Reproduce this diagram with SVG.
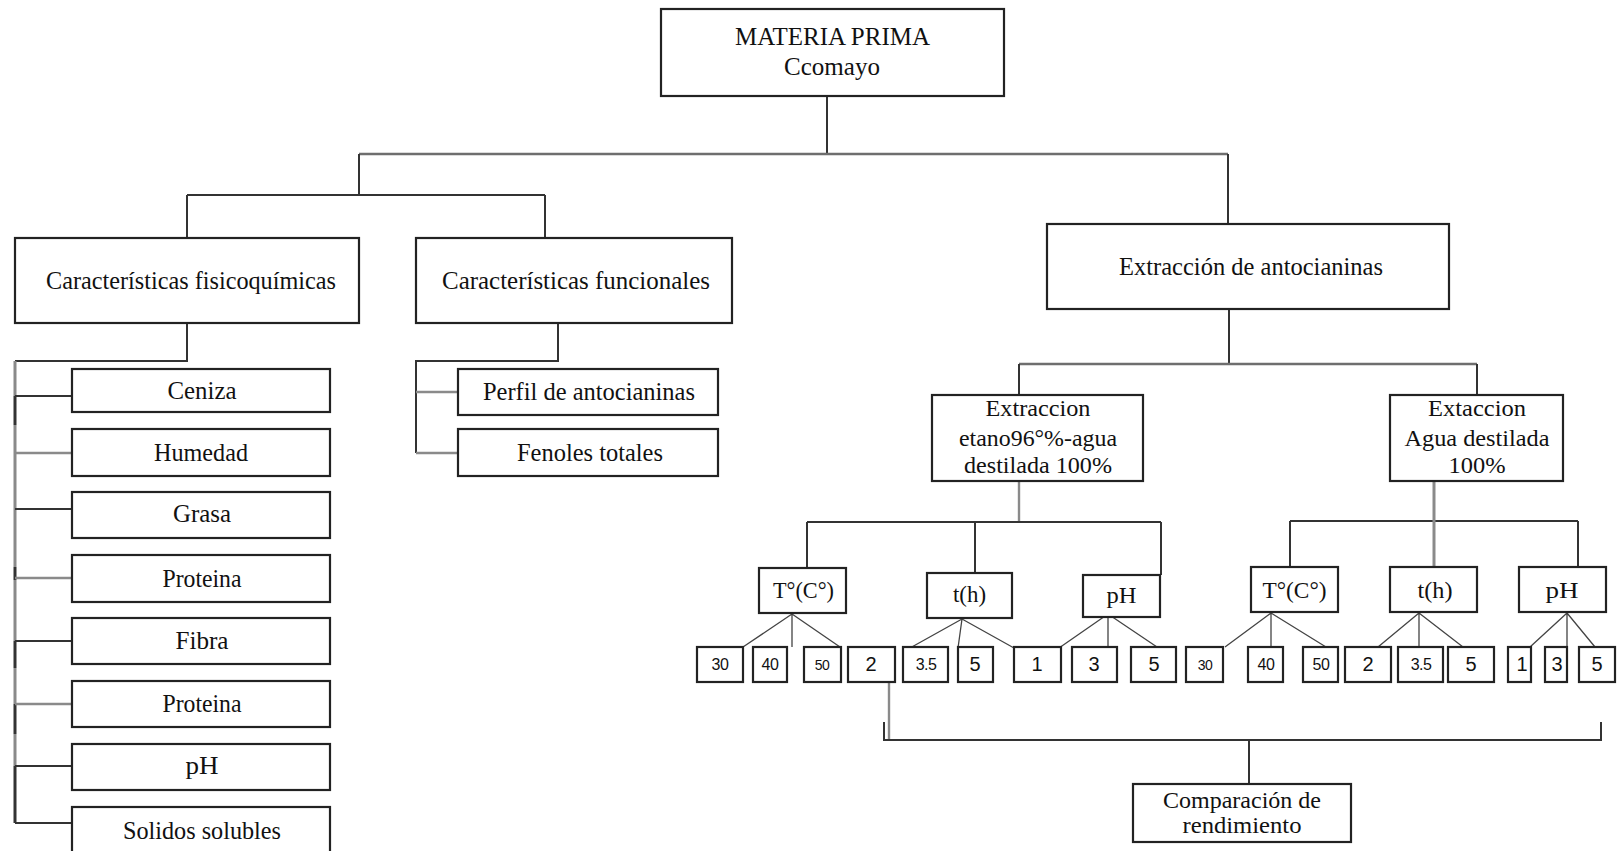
<svg xmlns="http://www.w3.org/2000/svg" width="1623" height="851" viewBox="0 0 1623 851">
<style>
.box{fill:#fff;stroke:#222;stroke-width:2.2}
.t{font-family:"Liberation Serif","Times New Roman",serif;fill:#111;text-anchor:middle}
.l{font-size:26px}
.m{font-size:24px}
.n{font-family:"Liberation Sans",Arial,sans-serif;fill:#111;text-anchor:middle}
.s{font-size:16px;letter-spacing:-0.5px}
.b{font-size:20px}
.dk{stroke:#333;stroke-width:2;fill:none}
.gr{stroke:#8a8a8a;stroke-width:2.4;fill:none}
.fn{stroke:#444;stroke-width:1.3;fill:none}
</style>
<rect x="0" y="0" width="1623" height="851" fill="#fff"/>
<g id="connectors">
<path class="dk" d="M827,96V154"/>
<path class="gr" d="M359,154H1228" style="stroke:#6e6e6e"/>
<path class="dk" d="M359,154V195M187,195H545M187,195V238M545,195V238M1228,154V224"/>
<path class="dk" d="M187,323V361H15"/>
<path class="gr" d="M15,361V823" style="stroke-width:3"/>
<path class="dk" d="M15,396V425M15,567V580M15,641V668M15,704V734M15,766V823" style="stroke-width:2.6"/>
<path class="dk" d="M15,396H72M15,509H72M15,641H72M15,766H72M15,823H72"/>
<path class="gr" d="M15,453H72M15,578H72M15,704H72"/>
<path class="dk" d="M558,323V361H416V453"/>
<path class="gr" d="M416,392H458M416,453H458"/>
<path class="dk" d="M1229,309V364"/>
<path class="gr" d="M1019,364H1477" style="stroke:#6e6e6e"/>
<path class="dk" d="M1019,364V395M1477,364V395"/>
<path class="gr" d="M1019,481V522"/>
<path class="dk" d="M807,522H1161M807,522V568M975,522V573M1161,522V575"/>
<path class="dk" d="M1290,521H1578M1290,521V567M1578,521V567"/>
<path class="gr" d="M1434,481V567" style="stroke-width:3"/>
<path class="fn" d="M792,614L743,647M792,614V647M792,614L840,647"/>
<path class="fn" d="M962,619L910,648M962,619L958,648M962,619L1014,648"/>
<path class="fn" d="M1108,614L1059,648M1108,614V648M1108,614L1157,647"/>
<path class="fn" d="M1271,613L1225,647M1271,613V647M1271,613L1326,647"/>
<path class="fn" d="M1419,613L1378,647M1419,613V647M1419,613L1463,647"/>
<path class="fn" d="M1567,613L1530,647M1567,613V647M1567,613L1595,647"/>
<path class="gr" d="M889,682V740"/>
<path class="dk" d="M884,722V740H1601V722M1249,740V784"/>
</g>
<g id="materia"><rect class="box" x="661" y="9" width="343" height="87"/>
<text class="t l" x="832.5" y="45" textLength="195" lengthAdjust="spacingAndGlyphs">MATERIA PRIMA</text>
<text class="t l" x="832" y="75" textLength="96" lengthAdjust="spacingAndGlyphs">Ccomayo</text></g>
<g id="fisico"><rect class="box" x="15" y="238" width="344" height="85"/>
<text class="t l" x="191" y="289" textLength="290" lengthAdjust="spacingAndGlyphs">Características fisicoquímicas</text></g>
<g id="funcional"><rect class="box" x="416" y="238" width="316" height="85"/>
<text class="t l" x="576" y="289" textLength="268" lengthAdjust="spacingAndGlyphs">Características funcionales</text></g>
<g id="extraccion"><rect class="box" x="1047" y="224" width="402" height="85"/>
<text class="t l" x="1251" y="275" textLength="264" lengthAdjust="spacingAndGlyphs">Extracción de antocianinas</text></g>
<g id="ceniza"><rect class="box" x="72" y="369" width="258" height="43"/><text class="t l" x="202" y="399" textLength="69" lengthAdjust="spacingAndGlyphs">Ceniza</text></g>
<g id="humedad"><rect class="box" x="72" y="429" width="258" height="47"/><text class="t l" x="201" y="461" textLength="94" lengthAdjust="spacingAndGlyphs">Humedad</text></g>
<g id="grasa"><rect class="box" x="72" y="492" width="258" height="46"/><text class="t l" x="202" y="522" textLength="58" lengthAdjust="spacingAndGlyphs">Grasa</text></g>
<g id="proteina1"><rect class="box" x="72" y="555" width="258" height="47"/><text class="t l" x="202" y="587" textLength="79" lengthAdjust="spacingAndGlyphs">Proteina</text></g>
<g id="fibra"><rect class="box" x="72" y="618" width="258" height="46"/><text class="t l" x="202" y="649" textLength="53" lengthAdjust="spacingAndGlyphs">Fibra</text></g>
<g id="proteina2"><rect class="box" x="72" y="681" width="258" height="46"/><text class="t l" x="202" y="712" textLength="79" lengthAdjust="spacingAndGlyphs">Proteina</text></g>
<g id="ph"><rect class="box" x="72" y="744" width="258" height="46"/><text class="t l" x="202" y="774" textLength="33" lengthAdjust="spacingAndGlyphs">pH</text></g>
<g id="solidos"><rect class="box" x="72" y="807" width="258" height="55"/><text class="t l" x="202" y="839" textLength="158" lengthAdjust="spacingAndGlyphs">Solidos solubles</text></g>
<g id="perfil"><rect class="box" x="458" y="369" width="260" height="46"/><text class="t l" x="589" y="400" textLength="212" lengthAdjust="spacingAndGlyphs">Perfil de antocianinas</text></g>
<g id="fenoles"><rect class="box" x="458" y="429" width="260" height="47"/><text class="t l" x="590" y="461" textLength="146" lengthAdjust="spacingAndGlyphs">Fenoles totales</text></g>
<g id="etanol"><rect class="box" x="932" y="395" width="211" height="86"/>
<text class="t m" x="1038" y="416" textLength="105" lengthAdjust="spacingAndGlyphs">Extraccion</text>
<text class="t m" x="1038" y="446" textLength="158" lengthAdjust="spacingAndGlyphs">etano96°%-agua</text>
<text class="t m" x="1038" y="473" textLength="148" lengthAdjust="spacingAndGlyphs">destilada 100%</text></g>
<g id="agua"><rect class="box" x="1390" y="395" width="173" height="86"/>
<text class="t m" x="1477" y="416" textLength="98" lengthAdjust="spacingAndGlyphs">Extaccion</text>
<text class="t m" x="1477" y="446" textLength="145" lengthAdjust="spacingAndGlyphs">Agua destilada</text>
<text class="t m" x="1477" y="473" textLength="57" lengthAdjust="spacingAndGlyphs">100%</text></g>
<g id="temp1"><rect class="box" x="759" y="568" width="87" height="45"/><text class="t m" x="803.5" y="598" textLength="61" lengthAdjust="spacingAndGlyphs">T°(C°)</text></g>
<g id="tiempo1"><rect class="box" x="927" y="573" width="85" height="45"/><text class="t m" x="969.5" y="602" textLength="33" lengthAdjust="spacingAndGlyphs">t(h)</text></g>
<g id="ph1"><rect class="box" x="1083" y="575" width="77" height="42"/><text class="t m" x="1121.5" y="603" textLength="30" lengthAdjust="spacingAndGlyphs">pH</text></g>
<g id="temp2"><rect class="box" x="1251" y="567" width="87" height="45"/><text class="t m" x="1294.5" y="598" textLength="64" lengthAdjust="spacingAndGlyphs">T°(C°)</text></g>
<g id="tiempo2"><rect class="box" x="1390" y="567" width="87" height="45"/><text class="t m" x="1435" y="598" textLength="35" lengthAdjust="spacingAndGlyphs">t(h)</text></g>
<g id="ph2"><rect class="box" x="1519" y="567" width="87" height="45"/><text class="t m" x="1562" y="598" textLength="33" lengthAdjust="spacingAndGlyphs">pH</text></g>
<g id="v1-30"><rect class="box" x="697" y="647" width="46" height="35"/><text class="n s" x="720" y="670">30</text></g>
<g id="v1-40"><rect class="box" x="753" y="647" width="34" height="35"/><text class="n s" x="770" y="670">40</text></g>
<g id="v1-50"><rect class="box" x="804" y="647" width="37" height="35"/><text class="n s" x="822" y="670" style="font-size:14px">50</text></g>
<g id="v1-2"><rect class="box" x="848" y="647" width="47" height="35"/><text class="n b" x="871" y="671">2</text></g>
<g id="v1-35"><rect class="box" x="903" y="647" width="45" height="35"/><text class="n s" x="926" y="670">3.5</text></g>
<g id="v1-5"><rect class="box" x="958" y="647" width="35" height="35"/><text class="n b" x="975" y="671">5</text></g>
<g id="v1-1"><rect class="box" x="1014" y="647" width="47" height="35"/><text class="n b" x="1037" y="671">1</text></g>
<g id="v1-3"><rect class="box" x="1072" y="647" width="45" height="35"/><text class="n b" x="1094" y="671">3</text></g>
<g id="v1-5b"><rect class="box" x="1131" y="647" width="45" height="35"/><text class="n b" x="1154" y="671">5</text></g>
<g id="v2-30"><rect class="box" x="1186" y="647" width="37" height="35"/><text class="n s" x="1205" y="670" style="font-size:14px">30</text></g>
<g id="v2-40"><rect class="box" x="1248" y="647" width="35" height="35"/><text class="n s" x="1266" y="670">40</text></g>
<g id="v2-50"><rect class="box" x="1303" y="647" width="35" height="35"/><text class="n s" x="1321" y="670">50</text></g>
<g id="v2-2"><rect class="box" x="1345" y="647" width="46" height="35"/><text class="n b" x="1368" y="671">2</text></g>
<g id="v2-35"><rect class="box" x="1398" y="647" width="45" height="35"/><text class="n s" x="1421" y="670">3.5</text></g>
<g id="v2-5"><rect class="box" x="1448" y="647" width="46" height="35"/><text class="n b" x="1471" y="671">5</text></g>
<g id="v2-1"><rect class="box" x="1508" y="647" width="23" height="35"/><text class="n b" x="1522" y="671">1</text></g>
<g id="v2-3"><rect class="box" x="1545" y="647" width="22" height="35"/><text class="n b" x="1557" y="671">3</text></g>
<g id="v2-5b"><rect class="box" x="1579" y="647" width="36" height="35"/><text class="n b" x="1597" y="671">5</text></g>
<g id="comparacion"><rect class="box" x="1133" y="784" width="218" height="58"/>
<text class="t m" x="1242" y="808" textLength="158" lengthAdjust="spacingAndGlyphs">Comparación de</text>
<text class="t m" x="1242" y="833" textLength="119" lengthAdjust="spacingAndGlyphs">rendimiento</text></g>
</svg>
